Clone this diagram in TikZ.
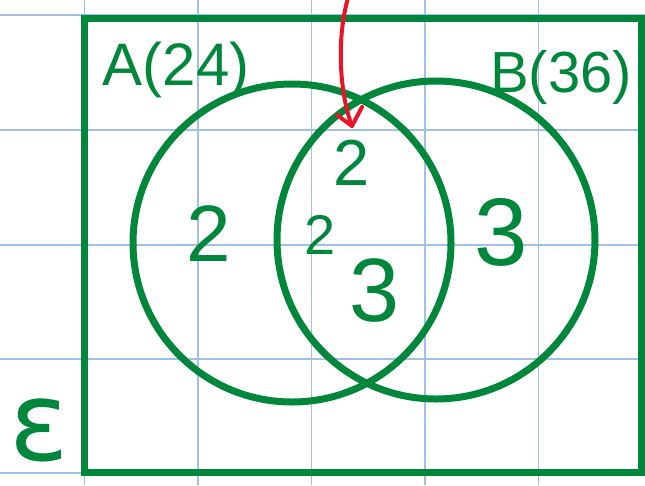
\documentclass[tikz,border=0pt]{standalone}
\usepackage{fontspec}
\setmainfont{Liberation Sans}
\newfontfamily\greekfont{DejaVu Sans}
\definecolor{vgreen}{RGB}{0,135,60}
\definecolor{vred}{RGB}{232,20,40}
\definecolor{gridblue}{RGB}{160,192,228}
\newcommand{\fsz}[1]{\fontsize{#1}{#1}\selectfont}
\tikzset{
  gridline/.style={draw=gridblue, line width=1.5pt},
  setcircle/.style={circle, draw=vgreen, line width=7pt, minimum size=318pt, inner sep=0pt},
  universe/.style={rectangle, draw=vgreen, line width=7pt, minimum width=557pt, minimum height=454pt, inner sep=0pt},
  hand/.style={text=vgreen, inner sep=0pt},
  pointer/.style={draw=vred, line width=4pt, line cap=round, line join=round},
}
\begin{document}
\begin{tikzpicture}[x=1pt,y=-1pt]
\useasboundingbox (0,0) rectangle (645,485);
% grid
\foreach \gx in {84.5,198,311.5,425,538.5}
  \draw[gridline] (\gx,0) -- (\gx,485);
\foreach \gy in {15,130,245,359,473}
  \draw[gridline] (0,\gy) -- (645,\gy);
% universe and sets
\node[universe] (U) at (362.5,245) {};
\node[setcircle] (A) at (292,243) {};
\node[setcircle] (B) at (436,240) {};
% labels
\node[hand, font=\fsz{60}] (la) at (176,70) {A(24)};
\node[hand, font=\fsz{58}] (lb) at (561,77) {B(36)};
\node[hand, font=\greekfont\fsz{110}] (eps) at (39,430) {ε};
% region numbers
\node[hand, font=\fsz{80}] (n1) at (209,234) {2};
\node[hand, font=\fsz{56}] (n2) at (320,235) {2};
\node[hand, font=\fsz{65}] (n3) at (352,163) {2};
\node[hand, font=\fsz{90}] (n4) at (375,291) {3};
\node[hand, font=\fsz{96}] (n5) at (501,232) {3};
% red arrow
\coordinate (ptop) at (348,-2);
\coordinate (ptip) at (352,126);
\coordinate (barbl) at (337,115);
\coordinate (barbr) at (362,107);
\draw[pointer] (ptop) .. controls (336,40) and (340,95) .. (ptip);
\draw[pointer] (barbl) -- (ptip) -- (barbr);
\end{tikzpicture}
\end{document}
